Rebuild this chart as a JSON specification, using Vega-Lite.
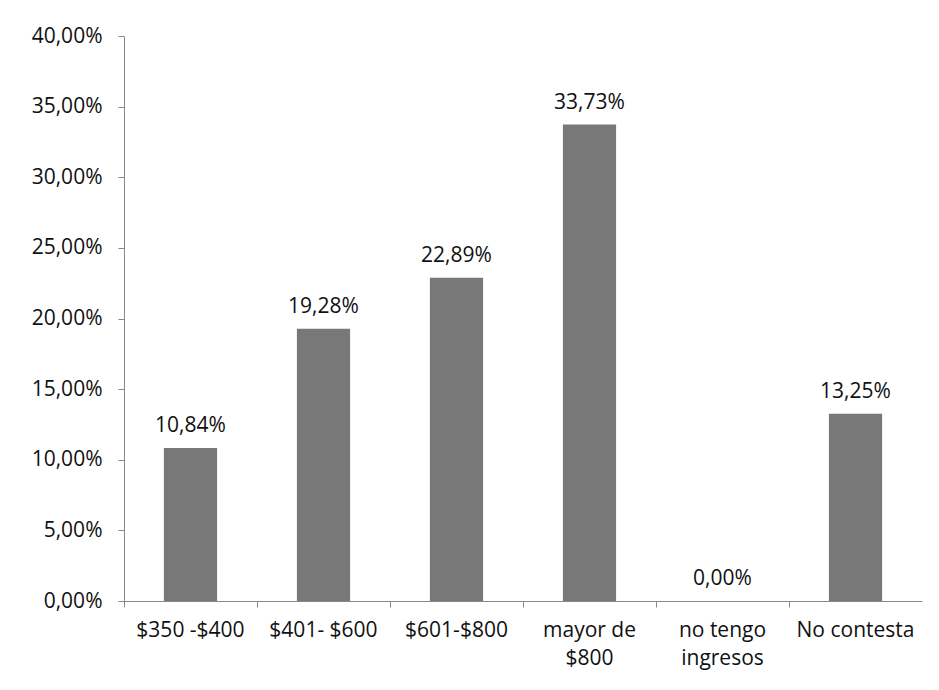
{
  "$schema": "https://vega.github.io/schema/vega-lite/v6.json",
  "width": 798,
  "height": 565,
  "autosize": {"type": "none"},
  "padding": {"left": 124, "top": 36, "right": 17, "bottom": 89},
  "background": "white",
  "config": {
    "view": {"stroke": null},
    "locale": {"number": {"decimal": ",", "thousands": ".", "grouping": [3], "currency": ["$", ""]}},
    "font": "Open Sans"
  },
  "data": {
    "values": [
      {"cat": "$350 -$400", "v": 0.1084},
      {"cat": "$401- $600", "v": 0.1928},
      {"cat": "$601-$800", "v": 0.2289},
      {"cat": "mayor de $800", "v": 0.3373},
      {"cat": "no tengo ingresos", "v": 0.0},
      {"cat": "No contesta", "v": 0.1325}
    ]
  },
  "encoding": {
    "x": {
      "field": "cat", "type": "nominal", "sort": null,
      "scale": {"paddingInner": 0, "paddingOuter": 0},
      "axis": {
        "title": null, "labelAngle": 0, "bandPosition": 0,
        "labelFont": "Open Sans", "labelFontSize": 21, "labelColor": "#111",
        "labelPadding": 12, "tickSize": 6, "tickColor": "#888", "domainColor": "#888",
        "labelLineHeight": 28, "labelBaseline": "top",
        "labelExpr": "datum.label == 'mayor de $800' ? ['mayor de', '$800'] : datum.label == 'no tengo ingresos' ? ['no tengo', 'ingresos'] : datum.label"
      }
    },
    "y": {
      "field": "v", "type": "quantitative",
      "scale": {"domain": [0, 0.4], "nice": false},
      "axis": {
        "title": null, "values": [0, 0.05, 0.1, 0.15, 0.2, 0.25, 0.3, 0.35, 0.4],
        "format": ".2%", "grid": false,
        "labelFont": "Open Sans", "labelFontSize": 21, "labelColor": "#111",
        "labelPadding": 16, "tickSize": 6, "tickColor": "#888", "domainColor": "#888"
      }
    }
  },
  "layer": [
    {"mark": {"type": "bar", "color": "#787878", "width": {"band": 0.4}}},
    {
      "mark": {"type": "text", "dy": -16, "baseline": "alphabetic", "font": "Open Sans", "fontSize": 21, "color": "#111"},
      "encoding": {"text": {"field": "v", "type": "quantitative", "format": ".2%"}}
    }
  ]
}
